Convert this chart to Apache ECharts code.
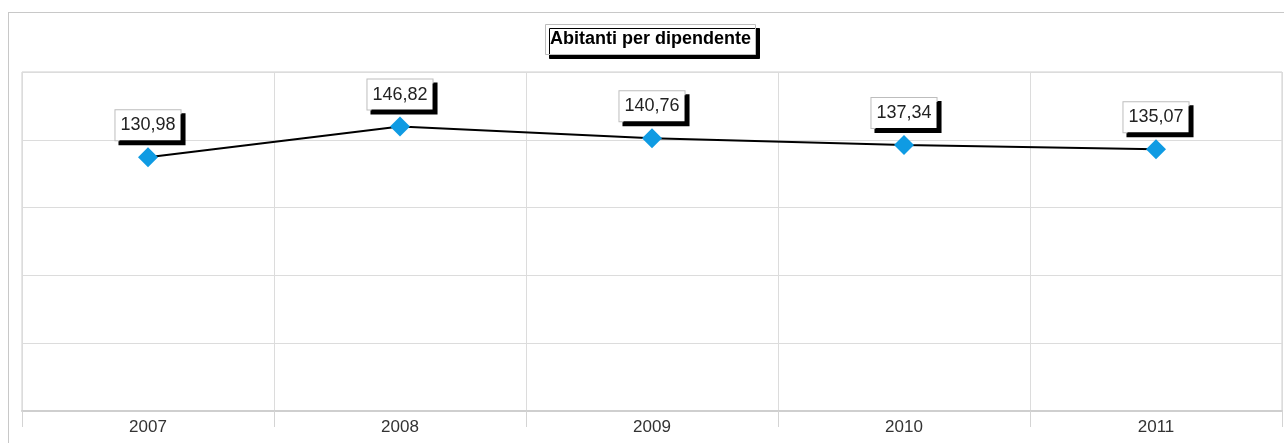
<!DOCTYPE html>
<html>
<head>
<meta charset="utf-8">
<script src="https://cdn.jsdelivr.net/npm/echarts@6/dist/echarts.min.js"></script>
<style>
html,body{margin:0;padding:0;background:#fff;}
#frame{position:absolute;left:8px;top:12px;width:1290px;height:450px;border:1px solid #c8c8c8;box-sizing:border-box;}
#chart{position:absolute;left:0;top:0;width:1284px;height:443px;}
</style>
</head>
<body>
<div id="frame"></div>
<div id="chart"></div>
<script>
const titleText = 'Abitanti per dipendente';
const categories = ['2007', '2008', '2009', '2010', '2011'];
const values = [130.98, 146.82, 140.76, 137.34, 135.07];
const yMin = 0, yMax = 175, yStep = 35;

const chart = echarts.init(document.getElementById('chart'), null, {renderer: 'canvas'});
const font = '"Liberation Sans", Arial, sans-serif';
chart.setOption({
  animation: false,
  title: {
    text: titleText,
    left: 545, top: 24,
    padding: [6, 5, 6, 5],
    backgroundColor: '#fff',
    borderColor: '#bdbdbd',
    borderWidth: 1,
    shadowColor: '#000',
    shadowOffsetX: 4,
    shadowOffsetY: 4,
    shadowBlur: 0,
    textStyle: {fontFamily: font, fontSize: 18, fontWeight: 'bold', color: '#000', lineHeight: 19}
  },
  grid: {
    left: 22, right: 2, top: 72, bottom: 32,
    show: true, borderColor: '#cfcfcf', borderWidth: 1
  },
  xAxis: {
    type: 'category',
    data: categories,
    boundaryGap: true,
    axisLine: {show: true, lineStyle: {color: '#cfcfcf', width: 2}},
    axisTick: {show: true, length: 16, lineStyle: {color: '#d4d4d4'}},
    splitLine: {show: true, lineStyle: {color: '#dcdcdc', width: 1}},
    axisLabel: {fontFamily: font, fontSize: 17, color: '#333', margin: 8}
  },
  yAxis: {
    type: 'value',
    min: yMin, max: yMax, interval: yStep,
    axisLine: {show: false},
    axisTick: {show: false},
    axisLabel: {show: false},
    splitLine: {show: true, lineStyle: {color: '#dcdcdc', width: 1}}
  },
  series: [{
    type: 'line',
    data: values,
    symbol: 'diamond',
    symbolSize: 20,
    itemStyle: {color: '#0f9be3'},
    lineStyle: {color: '#000', width: 2},
    label: {
      show: true,
      position: 'top',
      distance: 7,
      formatter: p => p.value.toFixed(2).replace('.', ','),
      fontFamily: font,
      fontSize: 18,
      lineHeight: 20,
      color: '#222',
      backgroundColor: '#fff',
      borderColor: '#bdbdbd',
      borderWidth: 1,
      padding: [5, 5, 5, 5],
      shadowColor: '#000',
      shadowOffsetX: 4,
      shadowOffsetY: 4,
      shadowBlur: 0
    },
    z: 3
  }]
});
</script>
</body>
</html>
